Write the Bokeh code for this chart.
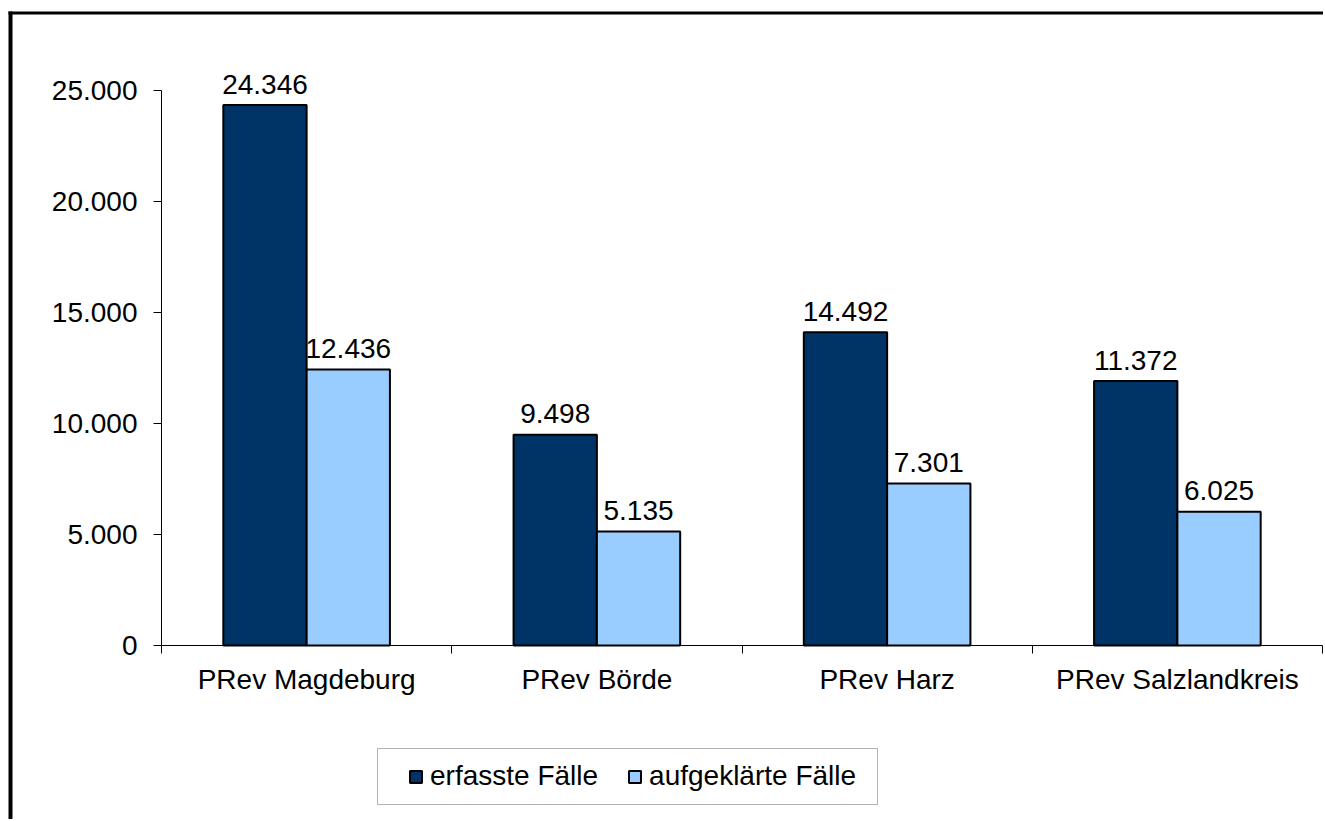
from bokeh.plotting import figure
from bokeh.models import (ColumnDataSource, Range1d, FixedTicker, LinearAxis,
                          Legend, LegendItem, BoxAnnotation, Node)
from bokeh.transform import dodge
from bokeh.core.properties import value
from bokeh.embed import file_html
from bokeh.resources import INLINE

# ---- data ----
categories = ["PRev Magdeburg", "PRev Börde", "PRev Harz", "PRev Salzlandkreis"]
erfasste = [24346, 9498, 14110, 11910]
aufgeklaerte = [12436, 5135, 7301, 6025]
erfasste_labels = ["24.346", "9.498", "14.492", "11.372"]
aufgeklaerte_labels = ["12.436", "5.135", "7.301", "6.025"]
series_names = ["erfasste Fälle", "aufgeklärte Fälle"]
y_ticks = [0, 5000, 10000, 15000, 20000, 25000]
y_tick_labels = ["0", "5.000", "10.000", "15.000", "20.000", "25.000"]

# ---- layout / style ----
FONT = "Liberation Sans"
FS = "28px"
DARK = "#003366"
LIGHT = "#99CCFF"
W, H = 1323, 819
AX_L, AX_R, AX_T, AX_B = 161, 1322, 90, 645   # pixel positions of the axes box

n = len(categories)
px_x = (AX_R - AX_L) / n
px_y = (AX_B - AX_T) / y_ticks[-1]

centers = [i + 0.5 for i in range(n)]
bounds_ticks = list(range(n + 1))
src = ColumnDataSource(dict(x=centers, erf=erfasste, auf=aufgeklaerte,
                            erf_l=erfasste_labels, auf_l=aufgeklaerte_labels))

p = figure(width=W, height=H,
           x_range=Range1d(-AX_L / px_x, (W - AX_L) / px_x),
           y_range=Range1d(-(H - AX_B) / px_y, AX_B / px_y),
           output_backend="svg", toolbar_location=None,
           x_axis_type=None, y_axis_type=None, min_border=0)
p.outline_line_color = None
p.background_fill_color = "white"
p.border_fill_color = "white"

yaxis = LinearAxis(ticker=FixedTicker(ticks=y_ticks),
                   major_label_overrides=dict(zip(y_ticks, y_tick_labels)),
                   bounds=(0, y_ticks[-1]), fixed_location=0)
yaxis.major_tick_out = 8
yaxis.major_tick_in = 0
yaxis.minor_tick_out = 0
yaxis.minor_tick_in = 0
yaxis.axis_line_color = "black"
yaxis.major_tick_line_color = "black"
yaxis.major_label_standoff = 16
yaxis.major_label_text_font = FONT
yaxis.major_label_text_font_size = FS
yaxis.major_label_text_color = "black"
p.add_layout(yaxis, "left")

xaxis = LinearAxis(ticker=FixedTicker(ticks=centers, minor_ticks=bounds_ticks),
                   major_label_overrides=dict(zip(centers, categories)),
                   bounds=(0, n), fixed_location=0)
xaxis.major_tick_out = 0
xaxis.major_tick_in = 0
xaxis.minor_tick_out = 8
xaxis.minor_tick_in = 0
xaxis.axis_line_color = "black"
xaxis.minor_tick_line_color = "black"
xaxis.major_label_standoff = 10
xaxis.major_label_text_font = FONT
xaxis.major_label_text_font_size = FS
xaxis.major_label_text_color = "black"
p.add_layout(xaxis, "below")

off = 0.1435
bw = 0.287
dark = p.vbar(x=dodge("x", -off, range=p.x_range), top="erf", width=bw, source=src,
              fill_color=DARK, line_color="black", line_width=2)
light = p.vbar(x=dodge("x", off, range=p.x_range), top="auf", width=bw, source=src,
               fill_color=LIGHT, line_color="black", line_width=2)

lab_gap = 21 / px_y
p.text(x=dodge("x", -off, range=p.x_range), y=dodge("erf", lab_gap, range=p.y_range),
       text="erf_l", source=src, text_align="center", text_baseline="alphabetic",
       text_font=value(FONT), text_font_size=value(FS), text_color="black")
p.text(x=dodge("x", off, range=p.x_range), y=dodge("auf", lab_gap, range=p.y_range),
       text="auf_l", source=src, text_align="center", text_baseline="alphabetic",
       text_font=value(FONT), text_font_size=value(FS), text_color="black")

legend = Legend(items=[LegendItem(label=series_names[0], renderers=[dark]),
                       LegendItem(label=series_names[1], renderers=[light])],
                orientation="horizontal", location=(408, H - 792),
                glyph_width=15, glyph_height=15, label_standoff=7, spacing=29,
                padding=0, margin=0, border_line_alpha=0, background_fill_alpha=0,
                label_text_font=FONT, label_text_font_size=FS, label_text_color="black")
p.add_layout(legend)

# legend frame
p.add_layout(BoxAnnotation(left=Node(target="canvas", symbol="left", offset=377),
                           right=Node(target="canvas", symbol="left", offset=877),
                           top=Node(target="canvas", symbol="top", offset=748),
                           bottom=Node(target="canvas", symbol="top", offset=804),
                           fill_alpha=0, line_color="black", line_width=1))
# outer chart border (left and top)
p.add_layout(BoxAnnotation(left=Node(target="canvas", symbol="left", offset=8),
                           right=Node(target="canvas", symbol="left", offset=12),
                           top=Node(target="canvas", symbol="top", offset=11),
                           bottom=Node(target="canvas", symbol="bottom", offset=0),
                           fill_color="black", fill_alpha=1, line_alpha=0))
p.add_layout(BoxAnnotation(left=Node(target="canvas", symbol="left", offset=8),
                           right=Node(target="canvas", symbol="right", offset=0),
                           top=Node(target="canvas", symbol="top", offset=11),
                           bottom=Node(target="canvas", symbol="top", offset=14),
                           fill_color="black", fill_alpha=1, line_alpha=0))

open("out.html", "w").write(file_html(p, INLINE))
